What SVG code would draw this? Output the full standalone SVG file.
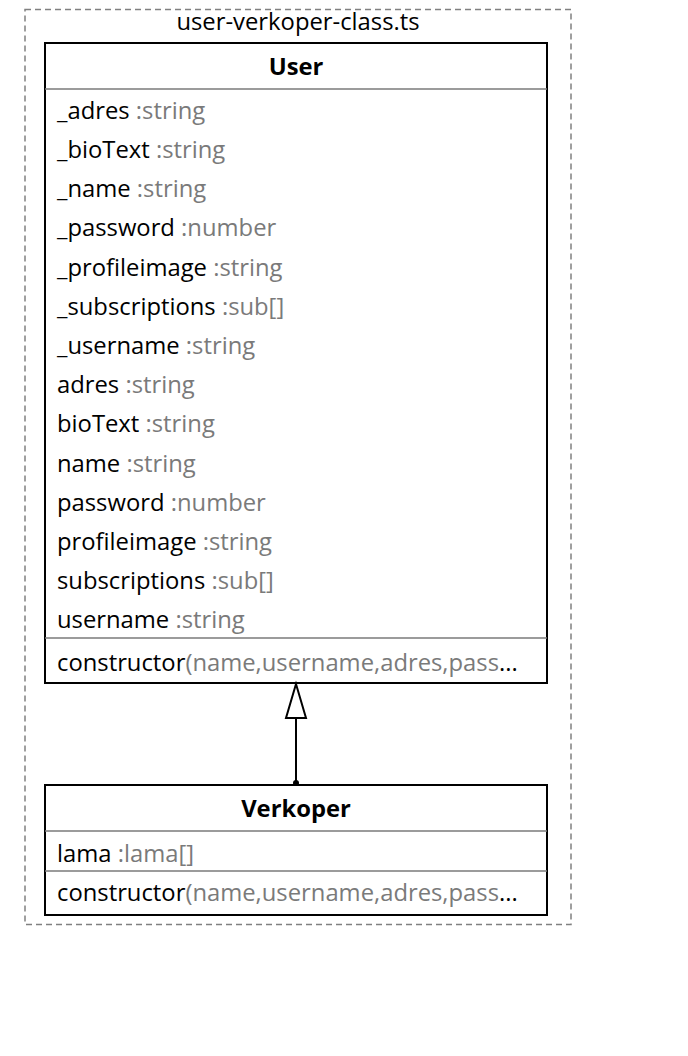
<svg xmlns="http://www.w3.org/2000/svg" width="688" height="1056" viewBox="0 0 688 1056">
<style>
text{font-family:"Open Sans","Noto Sans","DejaVu Sans",sans-serif;font-size:23.8px;fill:#000}
.t{fill:#7a7a7a}
.h{font-weight:bold;text-anchor:middle}
.box{fill:#fff;stroke:#000;stroke-width:2}
.sep{stroke:#7a7a7a;stroke-width:1.5}
</style>
<rect width="688" height="1056" fill="#fff"/>
<g id="container">
<rect x="25" y="9.5" width="546" height="915" fill="none" stroke="#808080" stroke-width="1.5" stroke-dasharray="6,4"/>
<text x="298" y="30" text-anchor="middle">user-verkoper-class.ts</text>
</g>
<g id="User">
<rect class="box" x="45" y="43" width="502" height="640"/>
<text class="h" x="296" y="75">User</text>
<line class="sep" x1="45" y1="89" x2="547" y2="89"/>
<text x="57" y="119">_adres <tspan class="t">:string</tspan></text>
<text x="57" y="158">_bioText <tspan class="t">:string</tspan></text>
<text x="57" y="197">_name <tspan class="t">:string</tspan></text>
<text x="57" y="236">_password <tspan class="t">:number</tspan></text>
<text x="57" y="276">_profileimage <tspan class="t">:string</tspan></text>
<text x="57" y="315">_subscriptions <tspan class="t">:sub[]</tspan></text>
<text x="57" y="354">_username <tspan class="t">:string</tspan></text>
<text x="57" y="393">adres <tspan class="t">:string</tspan></text>
<text x="57" y="432">bioText <tspan class="t">:string</tspan></text>
<text x="57" y="472">name <tspan class="t">:string</tspan></text>
<text x="57" y="511">password <tspan class="t">:number</tspan></text>
<text x="57" y="550">profileimage <tspan class="t">:string</tspan></text>
<text x="57" y="589">subscriptions <tspan class="t">:sub[]</tspan></text>
<text x="57" y="628">username <tspan class="t">:string</tspan></text>
<line class="sep" x1="45" y1="638" x2="547" y2="638"/>
<text x="57" y="671">constructor<tspan class="t">(name,username,adres,pass</tspan>...</text>
</g>
<g id="Verkoper">
<rect class="box" x="45" y="785" width="502" height="130"/>
<text class="h" x="296" y="817">Verkoper</text>
<line class="sep" x1="45" y1="831" x2="547" y2="831"/>
<text x="57" y="862">lama <tspan class="t">:lama[]</tspan></text>
<line class="sep" x1="45" y1="871" x2="547" y2="871"/>
<text x="57" y="901">constructor<tspan class="t">(name,username,adres,pass</tspan>...</text>
</g>
<g id="connectors">
<line x1="296" y1="783" x2="296" y2="718" stroke="#000" stroke-width="2"/>
<polygon points="296,684 286,718 306,718" fill="#fff" stroke="#000" stroke-width="2"/>
<circle cx="296" cy="783" r="3" fill="#000"/>
</g>
</svg>
